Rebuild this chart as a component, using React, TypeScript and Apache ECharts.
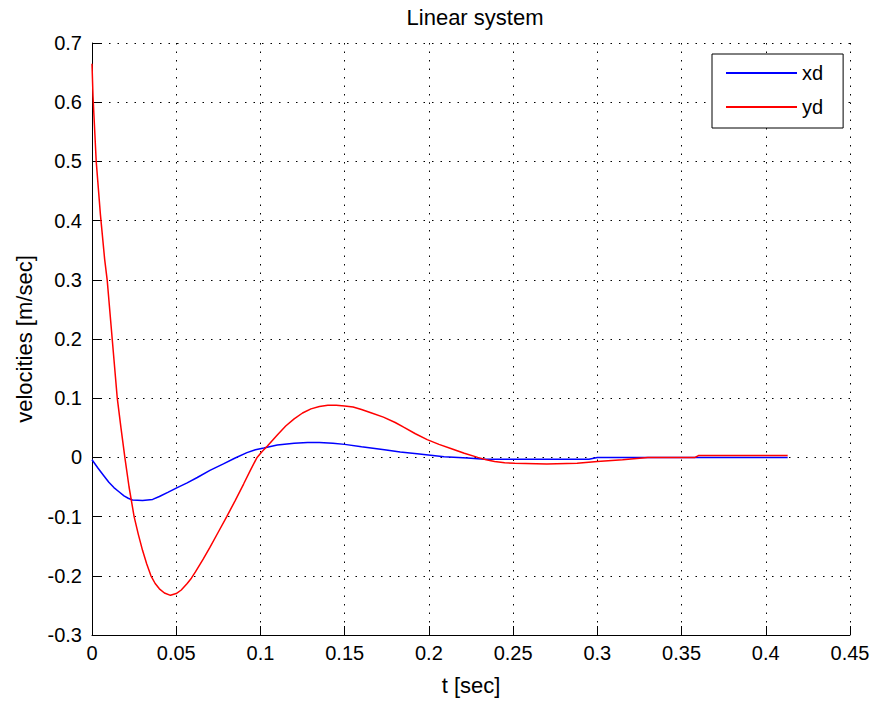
import React, { useEffect, useRef } from "react";
import * as echarts from "echarts";

const title = "Linear system";
const xName = "t [sec]";
const yName = "velocities [m/sec]";

const tXd = [0, 0.0035, 0.007, 0.01, 0.013, 0.016, 0.019, 0.0215, 0.024, 0.03, 0.036, 0.04, 0.045, 0.0506, 0.0565, 0.0625, 0.07, 0.078, 0.085, 0.092, 0.097, 0.102, 0.11, 0.12, 0.128, 0.135, 0.143, 0.15, 0.16, 0.1736, 0.183, 0.193, 0.209, 0.223, 0.233, 0.295, 0.3, 0.413];
const xd = [-0.004, -0.018, -0.031, -0.042, -0.051, -0.058, -0.065, -0.069, -0.072, -0.073, -0.071, -0.066, -0.059, -0.051, -0.043, -0.034, -0.022, -0.011, -0.001, 0.008, 0.013, 0.016, 0.021, 0.024, 0.025, 0.025, 0.024, 0.022, 0.018, 0.013, 0.009, 0.006, 0.001, -0.001, -0.003, -0.003, 0, 0];

const tYd = [0, 0.0006, 0.0025, 0.005, 0.0075, 0.009, 0.012, 0.015, 0.0172, 0.0195, 0.022, 0.025, 0.0275, 0.03, 0.0325, 0.035, 0.0375, 0.04, 0.043, 0.0466, 0.05, 0.053, 0.0565, 0.059, 0.0615, 0.066, 0.07, 0.075, 0.08, 0.085, 0.09, 0.094, 0.098, 0.101, 0.104, 0.11, 0.115, 0.12, 0.125, 0.13, 0.135, 0.14, 0.145, 0.15, 0.155, 0.16, 0.166, 0.173, 0.18, 0.185, 0.192, 0.199, 0.206, 0.213, 0.221, 0.229, 0.234, 0.239, 0.245, 0.251, 0.27, 0.288, 0.3, 0.315, 0.33, 0.358, 0.36, 0.413];
const yd = [0.665, 0.61, 0.5, 0.41, 0.335, 0.3, 0.2, 0.1, 0.05, 0.0, -0.05, -0.1, -0.13, -0.157, -0.18, -0.2, -0.213, -0.222, -0.229, -0.233, -0.23, -0.224, -0.213, -0.204, -0.193, -0.172, -0.152, -0.126, -0.1, -0.073, -0.045, -0.022, 0.0, 0.01, 0.019, 0.038, 0.053, 0.065, 0.075, 0.082, 0.086, 0.088, 0.088, 0.087, 0.085, 0.081, 0.075, 0.068, 0.059, 0.051, 0.04, 0.03, 0.022, 0.015, 0.007, 0.0, -0.004, -0.007, -0.009, -0.01, -0.011, -0.01, -0.007, -0.004, 0, 0, 0.003, 0.003];

const seriesNames = ["xd", "yd"];
const FONT = "'Liberation Sans', Arial, sans-serif";

export default function App() {
  const ref = useRef<HTMLDivElement>(null);
  useEffect(() => {
    if (!ref.current) return;
    const chart = echarts.init(ref.current, null, { renderer: "svg" });
    const pairs = (t: number[], v: number[]) => t.map((x, i) => [x, v[i]]);
    chart.setOption({
      animation: false,
      backgroundColor: "#ffffff",
      textStyle: { fontFamily: FONT },
      title: {
        text: title,
        left: 470,
        top: 1,
        textAlign: "center",
        textStyle: { fontFamily: FONT, fontSize: 22, fontWeight: "normal", color: "#000" },
      },
      legend: {
        orient: "vertical",
        left: 712,
        top: 54,
        padding: [9, 20, 11, 14],
        itemGap: 14,
        itemWidth: 71,
        itemHeight: 2,
        itemTextGap: 9,
        icon: "rect",
        backgroundColor: "#fff",
        borderColor: "#000",
        borderWidth: 1,
        textStyle: { fontFamily: FONT, fontSize: 20, color: "#000" },
        data: seriesNames,
      },
      grid: { left: 92, right: 23, top: 43, bottom: 63, containLabel: false },
      xAxis: {
        type: "value",
        min: 0,
        max: 0.45,
        interval: 0.05,
        name: xName,
        nameLocation: "middle",
        nameGap: 39,
        nameTextStyle: { fontFamily: FONT, fontSize: 22, color: "#000" },
        axisLine: { show: true, onZero: false, lineStyle: { color: "#000", width: 1 } },
        axisTick: { show: true, inside: true, length: 9, lineStyle: { color: "#000" } },
        axisLabel: { fontFamily: FONT, fontSize: 20, color: "#000", margin: 8 },
        splitLine: { show: true, lineStyle: { color: "#000", width: 1, type: [1.5, 7] } },
      },
      yAxis: {
        type: "value",
        min: -0.3,
        max: 0.7,
        interval: 0.1,
        name: yName,
        nameLocation: "middle",
        nameGap: 57,
        nameTextStyle: { fontFamily: FONT, fontSize: 22, color: "#000" },
        axisLine: { show: true, onZero: false, lineStyle: { color: "#000", width: 1 } },
        axisTick: { show: true, inside: true, length: 9, lineStyle: { color: "#000" } },
        axisLabel: { fontFamily: FONT, fontSize: 20, color: "#000", margin: 10 },
        splitLine: { show: true, lineStyle: { color: "#000", width: 1, type: [1.5, 7] } },
      },
      series: [
        {
          name: seriesNames[0],
          type: "line",
          data: pairs(tXd, xd),
          showSymbol: false,
          smooth: false,
          lineStyle: { color: "#0000ff", width: 1.5 },
          itemStyle: { color: "#0000ff" },
        },
        {
          name: seriesNames[1],
          type: "line",
          data: pairs(tYd, yd),
          showSymbol: false,
          smooth: false,
          lineStyle: { color: "#ff0000", width: 1.5 },
          itemStyle: { color: "#ff0000" },
        },
      ],
    });
    return () => chart.dispose();
  }, []);
  return (
    <div
      ref={ref}
      style={{ position: "fixed", left: 0, top: 0, width: 873, height: 701 }}
    />
  );
}
